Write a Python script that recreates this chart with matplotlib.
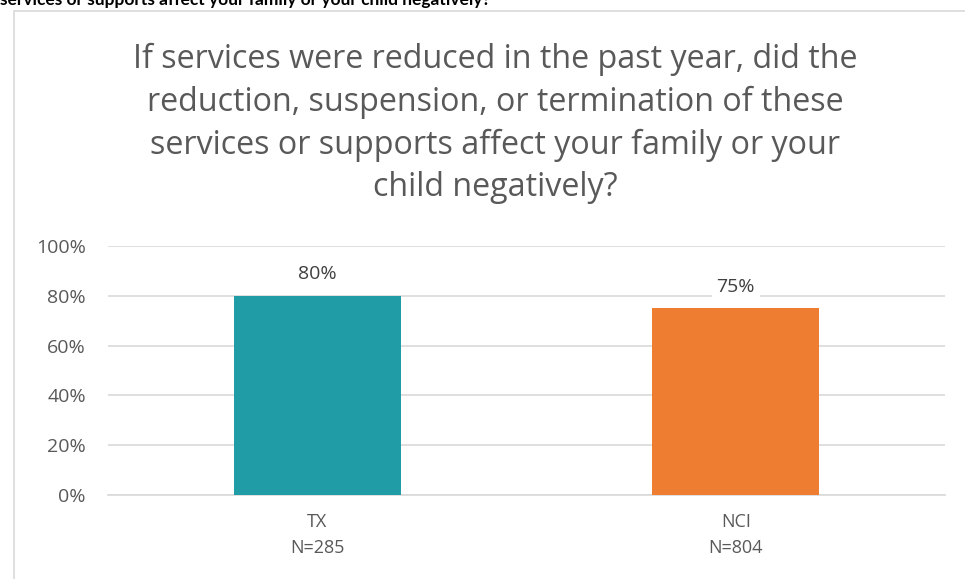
import matplotlib
matplotlib.use("Agg")
import matplotlib.pyplot as plt
from matplotlib.patches import Rectangle

categories = ["TX\nN=285", "NCI\nN=804"]
values = [80, 75]
colors = ["#209ca6", "#ee7d31"]
yticks = [0, 20, 40, 60, 80, 100]
title = ("If services were reduced in the past year, did the\n"
         "reduction, suspension, or termination of these\n"
         "services or supports affect your family or your\n"
         "child negatively?")
top_text = "services or supports affect your family or your child negatively?"

W, H = 965, 579
fig = plt.figure(figsize=(W/100, H/100), dpi=100)
fig.patch.set_facecolor("white")

# chart border
fig.patches.append(Rectangle((14/W, -0.05), 1.1, 1 - 11/H + 0.05, transform=fig.transFigure,
                             fill=False, edgecolor="#d9d9d9", linewidth=1.2))
fig.text(0.0, 1 - 5/H, top_text, fontsize=12.5, fontweight="bold", family="Lato",
         color="#000000", ha="left", va="baseline")

ax = fig.add_axes([108/W, 1 - 495/H, (945-108)/W, (495-246)/H])
x = list(range(len(categories)))
bars = ax.bar(x, values, width=0.4, color=colors, zorder=3)
ax.set_xlim(-0.5, 1.5)
ax.set_ylim(0, 100)
ax.set_yticks(yticks)
ax.set_yticklabels([f"{v}%" for v in yticks], family="Open Sans", fontsize=14, color="#595959")
ax.set_xticks(x)
ax.set_xticklabels(categories, family="Open Sans", fontsize=13, color="#595959", linespacing=1.6)
ax.tick_params(axis="both", length=0)
ax.tick_params(axis="y", pad=16)
ax.tick_params(axis="x", pad=13)
ax.grid(axis="y", color="#d9d9d9", linewidth=1.2, zorder=0)
for s in ["top", "right", "left"]:
    ax.spines[s].set_visible(False)
ax.spines["bottom"].set_color("#d9d9d9")
ax.spines["bottom"].set_linewidth(1.2)

for xi, v in zip(x, values):
    ax.annotate(f"{v}%", (xi, v), xytext=(0, 9), textcoords="offset points",
                ha="center", va="bottom", fontsize=14, family="Open Sans", color="#404040",
                bbox=dict(boxstyle="square,pad=0.25", facecolor="white", edgecolor="none"),
                zorder=4)

fig.text(495/W, 1 - 43/H, title, ha="center", va="top", fontsize=23.2, family="Open Sans",
         color="#595959", linespacing=1.38)

fig.savefig("out.png", dpi=100, facecolor="white")
